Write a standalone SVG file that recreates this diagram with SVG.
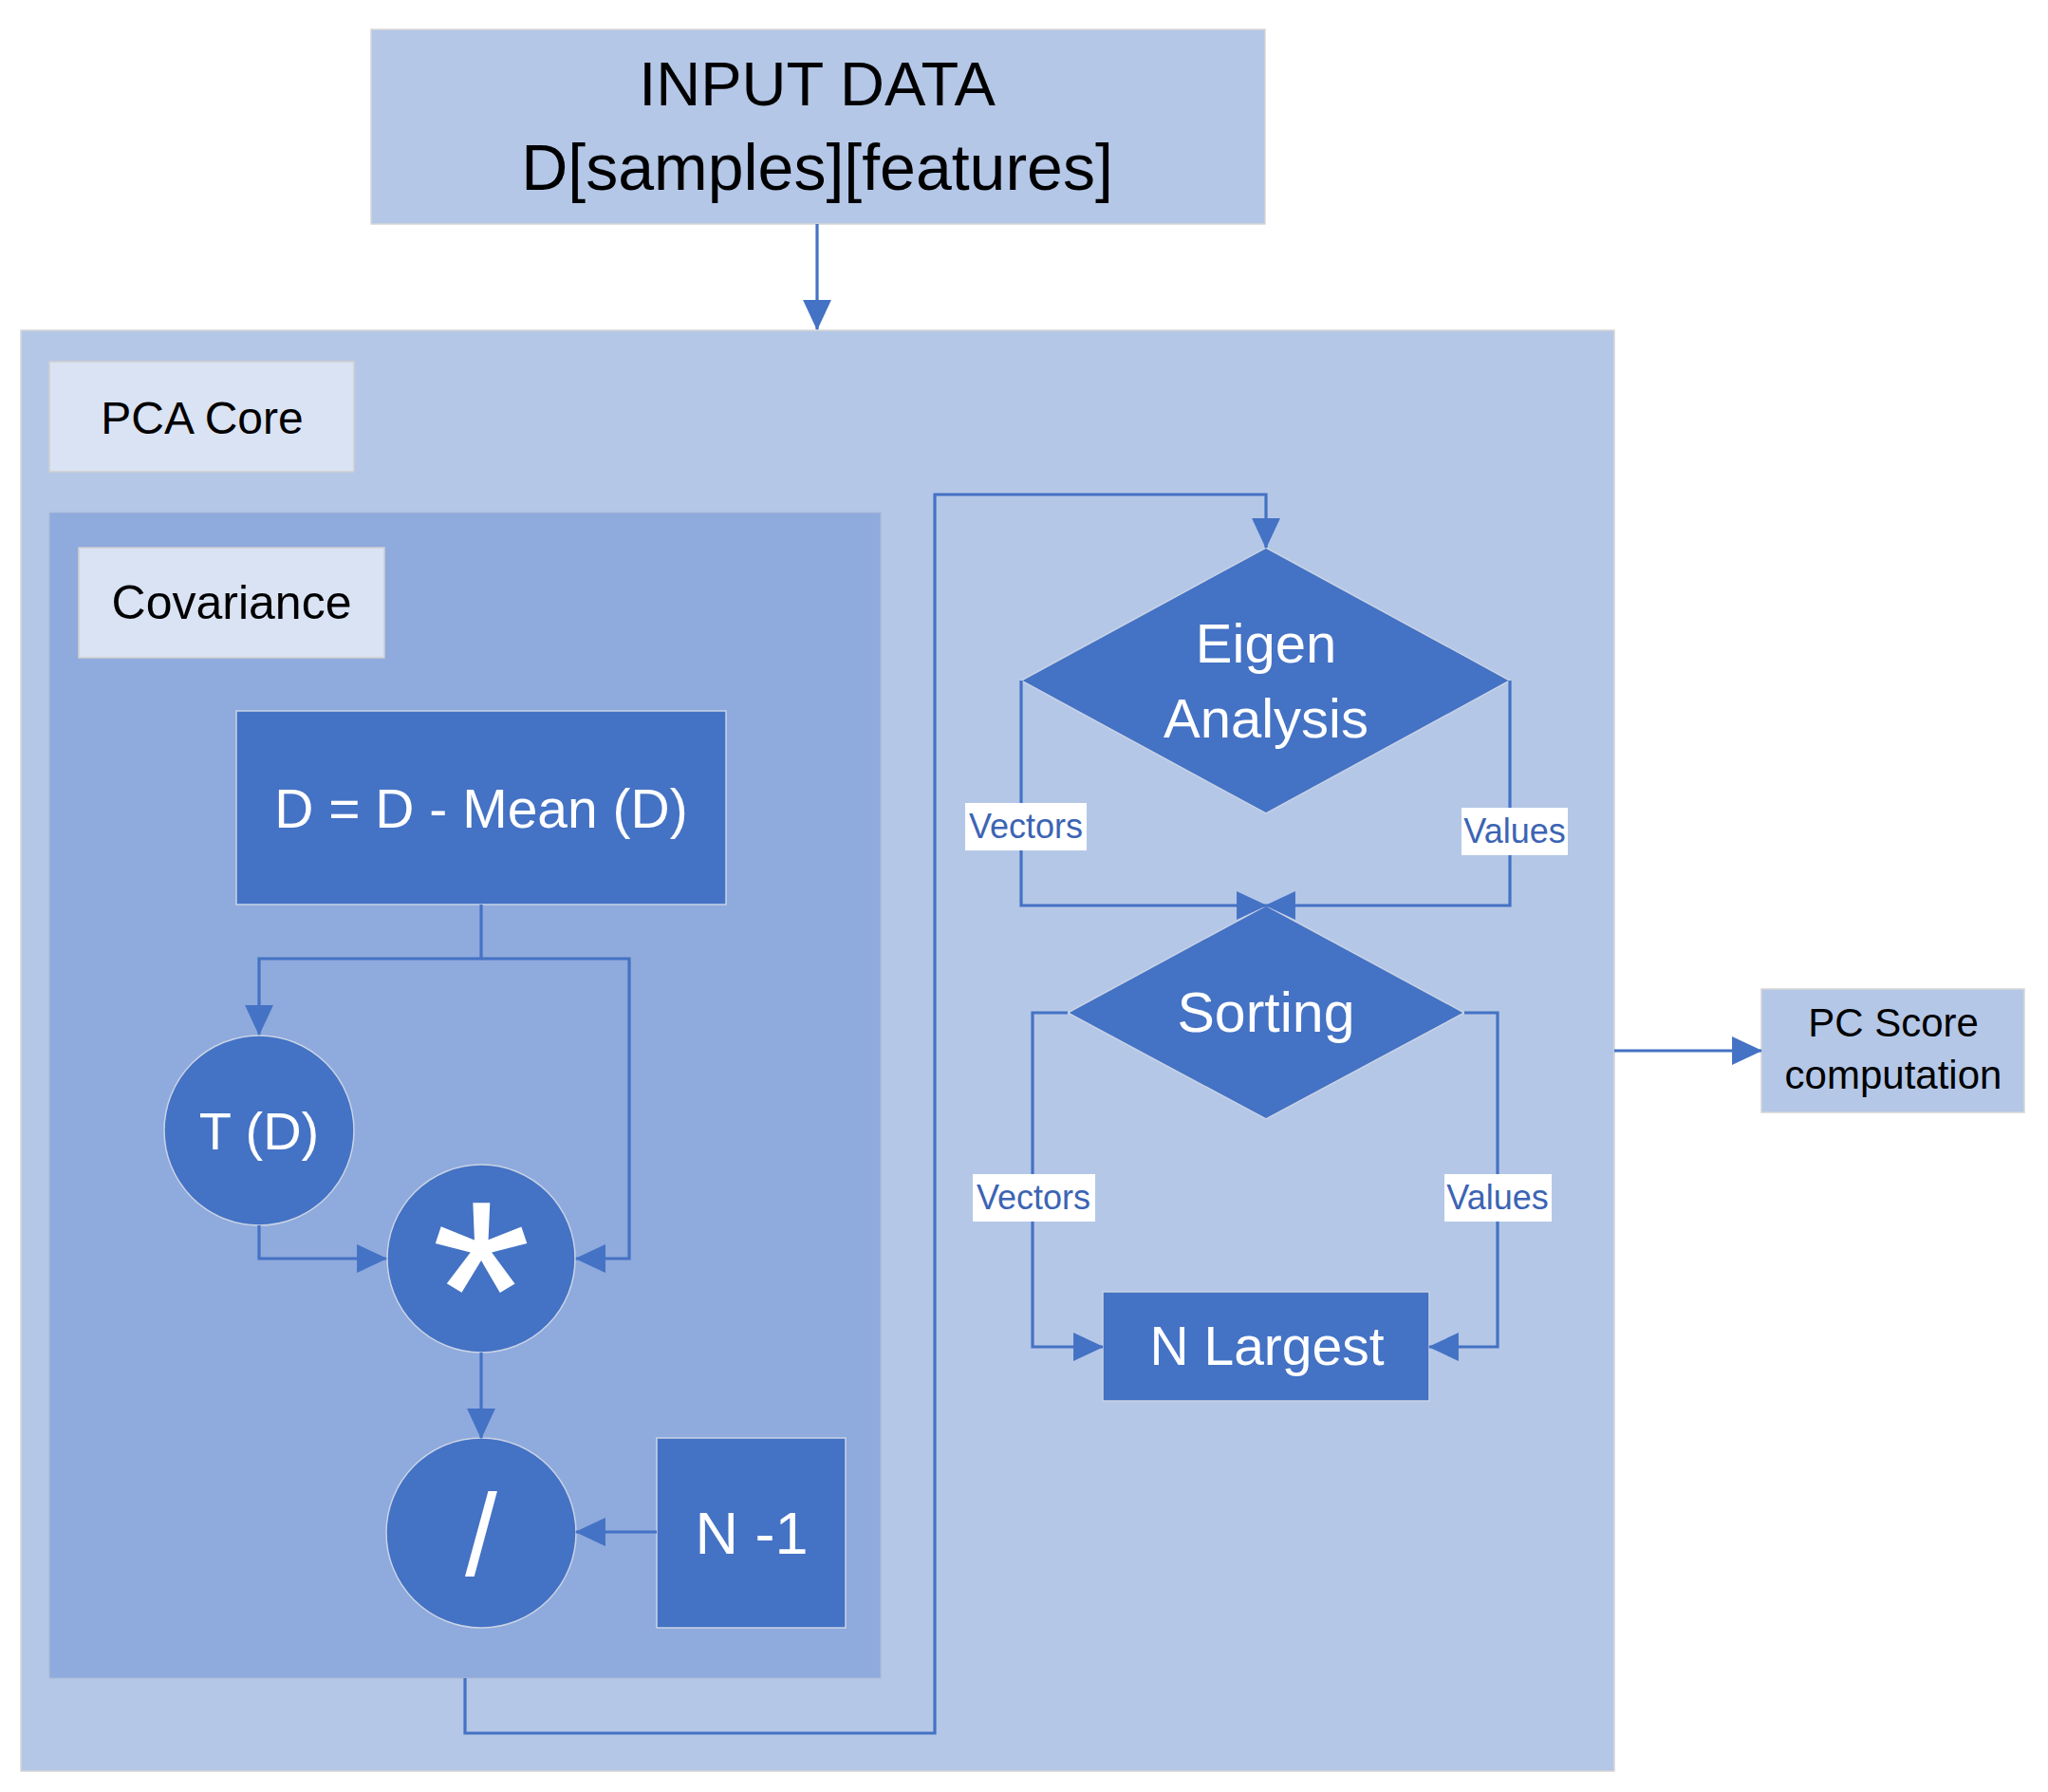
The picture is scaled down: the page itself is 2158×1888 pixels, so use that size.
<svg xmlns="http://www.w3.org/2000/svg" width="2158" height="1888" viewBox="0 0 2158 1888">
<style>
.t{font-family:"Liberation Sans",Arial,sans-serif;text-anchor:middle}
.blk{fill:#000}
.wht{fill:#fff}
.lbl{fill:#3C64B4;font-size:36px}
.c{fill:none;stroke:#4472C4;stroke-width:3.2;stroke-linejoin:miter}
.node{fill:#4472C4;stroke:#C9D3E6;stroke-width:1.5}
.pale{fill:#B4C7E7;stroke:#D6D6D6;stroke-width:1.5}
.tag{fill:#DAE3F3;stroke:#CFCFCF;stroke-width:1.5}
.lb{fill:#fff}
</style>
<defs>
<marker id="ah" markerUnits="userSpaceOnUse" markerWidth="32" markerHeight="32" viewBox="0 0 30 28" refX="29" refY="14" orient="auto">
<path d="M0,0 L30,14 L0,28 z" fill="#4472C4"/>
</marker>
</defs>

<g id="input-data">
<rect class="pale" x="391" y="31" width="942" height="205"/>
<text class="t blk" x="861" y="111" font-size="65">INPUT DATA</text>
<text class="t blk" x="861" y="200" font-size="68">D[samples][features]</text>
</g>

<g id="pca-core">
<rect class="pale" x="22" y="348" width="1679" height="1518"/>
<rect class="tag" x="52" y="381" width="321" height="116"/>
<text class="t blk" x="213" y="457" font-size="48">PCA Core</text>
</g>

<g id="covariance">
<rect x="52" y="540" width="876" height="1228" fill="#8FAADC" stroke="#A9B9D6" stroke-width="1"/>
<rect class="tag" x="83" y="577" width="322" height="116"/>
<text class="t blk" x="244" y="652" font-size="50">Covariance</text>
</g>

<g id="mean">
<rect class="node" x="249" y="749" width="516" height="204"/>
<text class="t wht" x="507" y="872" font-size="57">D = D - Mean (D)</text>
</g>

<g id="transpose">
<circle class="node" cx="273" cy="1191" r="100"/>
<text class="t wht" x="273" y="1211" font-size="56">T (D)</text>
</g>

<g id="multiply">
<circle class="node" cx="507" cy="1326" r="99"/>
<text class="t wht" x="507" y="1453" font-size="270">*</text>
</g>

<g id="divide">
<circle class="node" cx="507" cy="1615" r="100"/>
<text class="t wht" x="507" y="1660" font-size="122">/</text>
</g>

<g id="n-minus-1">
<rect class="node" x="692" y="1515" width="199" height="200"/>
<text class="t wht" x="792" y="1637" font-size="63">N -1</text>
</g>

<g id="eigen">
<polygon class="node" points="1334,577 1591,717 1334,857 1076,717"/>
<text class="t wht" x="1334" y="698" font-size="58">Eigen</text>
<text class="t wht" x="1334" y="777" font-size="58">Analysis</text>
</g>

<g id="sorting">
<polygon class="node" points="1334,954 1543,1067 1334,1179 1125,1067"/>
<text class="t wht" x="1334" y="1087" font-size="59">Sorting</text>
</g>

<g id="n-largest">
<rect class="node" x="1162" y="1361" width="344" height="115"/>
<text class="t wht" x="1335" y="1438" font-size="57">N Largest</text>
</g>

<g id="pc-score">
<rect class="pale" x="1856" y="1042" width="277" height="130"/>
<text class="t blk" x="1995" y="1092" font-size="42">PC Score</text>
<text class="t blk" x="1995" y="1147" font-size="42">computation</text>
</g>

<g id="connectors">
<path class="c" d="M861,236 V347" marker-end="url(#ah)"/>
<path class="c" d="M507,953 V1010 H273 V1090" marker-end="url(#ah)"/>
<path class="c" d="M507,1010 H663 V1326 H607" marker-end="url(#ah)"/>
<path class="c" d="M273,1291 V1326 H407" marker-end="url(#ah)"/>
<path class="c" d="M507,1425 V1515" marker-end="url(#ah)"/>
<path class="c" d="M692,1614 H607" marker-end="url(#ah)"/>
<path class="c" d="M490,1768 V1826 H985 V521 H1334 V577" marker-end="url(#ah)"/>
<path class="c" d="M1076,717 V954 H1334" marker-end="url(#ah)"/>
<path class="c" d="M1591,717 V954 H1334" marker-end="url(#ah)"/>
<path class="c" d="M1125,1067 H1088 V1419 H1162" marker-end="url(#ah)"/>
<path class="c" d="M1543,1067 H1578 V1419 H1506" marker-end="url(#ah)"/>
<path class="c" d="M1701,1107 H1856" marker-end="url(#ah)"/>
<rect class="lb" x="1017" y="846" width="128" height="50"/>
<text class="t lbl" x="1081" y="883">Vectors</text>
<rect class="lb" x="1540" y="851" width="112" height="50"/>
<text class="t lbl" x="1596" y="888">Values</text>
<rect class="lb" x="1025" y="1237" width="129" height="50"/>
<text class="t lbl" x="1089" y="1274">Vectors</text>
<rect class="lb" x="1522" y="1237" width="113" height="50"/>
<text class="t lbl" x="1578" y="1274">Values</text>
</g>
</svg>
